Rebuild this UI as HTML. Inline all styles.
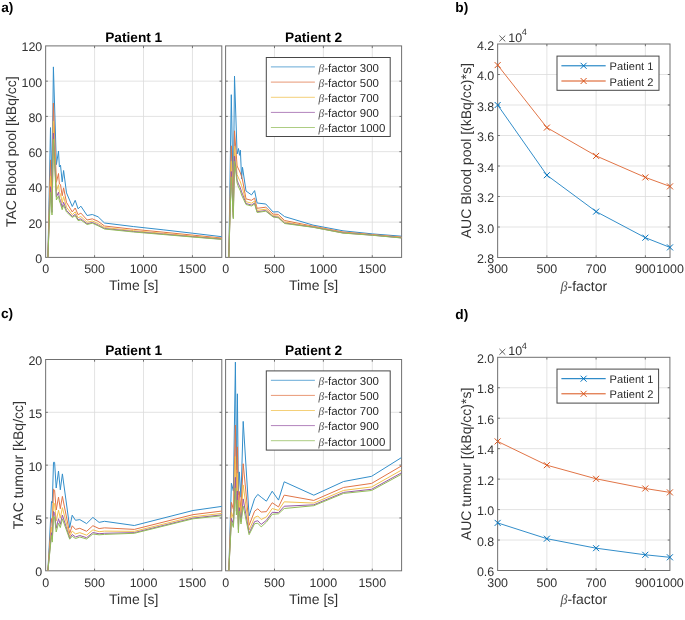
<!DOCTYPE html><html><head><meta charset="utf-8"><style>html,body{margin:0;padding:0;background:#fff;overflow:hidden}svg{display:block;will-change:transform}</style></head><body><svg width="685" height="620" viewBox="0 0 685 620" text-rendering="geometricPrecision" font-family='"Liberation Sans", sans-serif'>
<rect width="685" height="620" fill="#fff"/>
<defs>
<clipPath id="cpa1"><rect x="45.65" y="45.9" width="176.15" height="211.5"/></clipPath>
<clipPath id="cpa2"><rect x="225.6" y="45.9" width="176" height="211.5"/></clipPath>
<clipPath id="cpb"><rect x="497.65" y="44" width="172.35" height="213.5"/></clipPath>
<clipPath id="cpc1"><rect x="45.65" y="359.5" width="176.15" height="211.3"/></clipPath>
<clipPath id="cpc2"><rect x="225.6" y="359.5" width="176" height="211.3"/></clipPath>
<clipPath id="cpd"><rect x="497.65" y="357.3" width="172.25" height="213.2"/></clipPath>
</defs>
<line x1="94.58" y1="45.9" x2="94.58" y2="257.4" stroke="#dcdcdc" stroke-width="0.8"/>
<line x1="143.51" y1="45.9" x2="143.51" y2="257.4" stroke="#dcdcdc" stroke-width="0.8"/>
<line x1="192.44" y1="45.9" x2="192.44" y2="257.4" stroke="#dcdcdc" stroke-width="0.8"/>
<line x1="45.65" y1="222.15" x2="221.8" y2="222.15" stroke="#dcdcdc" stroke-width="0.8"/>
<line x1="45.65" y1="186.9" x2="221.8" y2="186.9" stroke="#dcdcdc" stroke-width="0.8"/>
<line x1="45.65" y1="151.65" x2="221.8" y2="151.65" stroke="#dcdcdc" stroke-width="0.8"/>
<line x1="45.65" y1="116.4" x2="221.8" y2="116.4" stroke="#dcdcdc" stroke-width="0.8"/>
<line x1="45.65" y1="81.15" x2="221.8" y2="81.15" stroke="#dcdcdc" stroke-width="0.8"/>
<line x1="274.49" y1="45.9" x2="274.49" y2="257.4" stroke="#dcdcdc" stroke-width="0.8"/>
<line x1="323.38" y1="45.9" x2="323.38" y2="257.4" stroke="#dcdcdc" stroke-width="0.8"/>
<line x1="372.27" y1="45.9" x2="372.27" y2="257.4" stroke="#dcdcdc" stroke-width="0.8"/>
<line x1="225.6" y1="222.15" x2="401.6" y2="222.15" stroke="#dcdcdc" stroke-width="0.8"/>
<line x1="225.6" y1="186.9" x2="401.6" y2="186.9" stroke="#dcdcdc" stroke-width="0.8"/>
<line x1="225.6" y1="151.65" x2="401.6" y2="151.65" stroke="#dcdcdc" stroke-width="0.8"/>
<line x1="225.6" y1="116.4" x2="401.6" y2="116.4" stroke="#dcdcdc" stroke-width="0.8"/>
<line x1="225.6" y1="81.15" x2="401.6" y2="81.15" stroke="#dcdcdc" stroke-width="0.8"/>
<line x1="94.58" y1="359.5" x2="94.58" y2="570.8" stroke="#dcdcdc" stroke-width="0.8"/>
<line x1="143.51" y1="359.5" x2="143.51" y2="570.8" stroke="#dcdcdc" stroke-width="0.8"/>
<line x1="192.44" y1="359.5" x2="192.44" y2="570.8" stroke="#dcdcdc" stroke-width="0.8"/>
<line x1="45.65" y1="517.97" x2="221.8" y2="517.97" stroke="#dcdcdc" stroke-width="0.8"/>
<line x1="45.65" y1="465.15" x2="221.8" y2="465.15" stroke="#dcdcdc" stroke-width="0.8"/>
<line x1="45.65" y1="412.32" x2="221.8" y2="412.32" stroke="#dcdcdc" stroke-width="0.8"/>
<line x1="274.49" y1="359.5" x2="274.49" y2="570.8" stroke="#dcdcdc" stroke-width="0.8"/>
<line x1="323.38" y1="359.5" x2="323.38" y2="570.8" stroke="#dcdcdc" stroke-width="0.8"/>
<line x1="372.27" y1="359.5" x2="372.27" y2="570.8" stroke="#dcdcdc" stroke-width="0.8"/>
<line x1="225.6" y1="517.97" x2="401.6" y2="517.97" stroke="#dcdcdc" stroke-width="0.8"/>
<line x1="225.6" y1="465.15" x2="401.6" y2="465.15" stroke="#dcdcdc" stroke-width="0.8"/>
<line x1="225.6" y1="412.32" x2="401.6" y2="412.32" stroke="#dcdcdc" stroke-width="0.8"/>
<line x1="546.89" y1="44" x2="546.89" y2="257.5" stroke="#dcdcdc" stroke-width="0.8"/>
<line x1="596.14" y1="44" x2="596.14" y2="257.5" stroke="#dcdcdc" stroke-width="0.8"/>
<line x1="645.38" y1="44" x2="645.38" y2="257.5" stroke="#dcdcdc" stroke-width="0.8"/>
<line x1="497.65" y1="227" x2="670" y2="227" stroke="#dcdcdc" stroke-width="0.8"/>
<line x1="497.65" y1="196.5" x2="670" y2="196.5" stroke="#dcdcdc" stroke-width="0.8"/>
<line x1="497.65" y1="166" x2="670" y2="166" stroke="#dcdcdc" stroke-width="0.8"/>
<line x1="497.65" y1="135.5" x2="670" y2="135.5" stroke="#dcdcdc" stroke-width="0.8"/>
<line x1="497.65" y1="105" x2="670" y2="105" stroke="#dcdcdc" stroke-width="0.8"/>
<line x1="497.65" y1="74.5" x2="670" y2="74.5" stroke="#dcdcdc" stroke-width="0.8"/>
<line x1="546.86" y1="357.3" x2="546.86" y2="570.5" stroke="#dcdcdc" stroke-width="0.8"/>
<line x1="596.08" y1="357.3" x2="596.08" y2="570.5" stroke="#dcdcdc" stroke-width="0.8"/>
<line x1="645.29" y1="357.3" x2="645.29" y2="570.5" stroke="#dcdcdc" stroke-width="0.8"/>
<line x1="497.65" y1="540.04" x2="669.9" y2="540.04" stroke="#dcdcdc" stroke-width="0.8"/>
<line x1="497.65" y1="509.59" x2="669.9" y2="509.59" stroke="#dcdcdc" stroke-width="0.8"/>
<line x1="497.65" y1="479.13" x2="669.9" y2="479.13" stroke="#dcdcdc" stroke-width="0.8"/>
<line x1="497.65" y1="448.67" x2="669.9" y2="448.67" stroke="#dcdcdc" stroke-width="0.8"/>
<line x1="497.65" y1="418.21" x2="669.9" y2="418.21" stroke="#dcdcdc" stroke-width="0.8"/>
<line x1="497.65" y1="387.76" x2="669.9" y2="387.76" stroke="#dcdcdc" stroke-width="0.8"/>
<path d="M94.58 257.4v-2.2M94.58 45.9v2.2M143.51 257.4v-2.2M143.51 45.9v2.2M192.44 257.4v-2.2M192.44 45.9v2.2M45.65 222.15h2.2M221.8 222.15h-2.2M45.65 186.9h2.2M221.8 186.9h-2.2M45.65 151.65h2.2M221.8 151.65h-2.2M45.65 116.4h2.2M221.8 116.4h-2.2M45.65 81.15h2.2M221.8 81.15h-2.2" stroke="#707070" stroke-width="1.0" fill="none"/>
<rect x="45.65" y="45.9" width="176.15" height="211.5" stroke="#707070" stroke-width="1.0" fill="none"/>
<path d="M274.49 257.4v-2.2M274.49 45.9v2.2M323.38 257.4v-2.2M323.38 45.9v2.2M372.27 257.4v-2.2M372.27 45.9v2.2M225.6 222.15h2.2M401.6 222.15h-2.2M225.6 186.9h2.2M401.6 186.9h-2.2M225.6 151.65h2.2M401.6 151.65h-2.2M225.6 116.4h2.2M401.6 116.4h-2.2M225.6 81.15h2.2M401.6 81.15h-2.2" stroke="#707070" stroke-width="1.0" fill="none"/>
<rect x="225.6" y="45.9" width="176" height="211.5" stroke="#707070" stroke-width="1.0" fill="none"/>
<path d="M94.58 570.8v-2.2M94.58 359.5v2.2M143.51 570.8v-2.2M143.51 359.5v2.2M192.44 570.8v-2.2M192.44 359.5v2.2M45.65 517.97h2.2M221.8 517.97h-2.2M45.65 465.15h2.2M221.8 465.15h-2.2M45.65 412.32h2.2M221.8 412.32h-2.2" stroke="#707070" stroke-width="1.0" fill="none"/>
<rect x="45.65" y="359.5" width="176.15" height="211.3" stroke="#707070" stroke-width="1.0" fill="none"/>
<path d="M274.49 570.8v-2.2M274.49 359.5v2.2M323.38 570.8v-2.2M323.38 359.5v2.2M372.27 570.8v-2.2M372.27 359.5v2.2M225.6 517.97h2.2M401.6 517.97h-2.2M225.6 465.15h2.2M401.6 465.15h-2.2M225.6 412.32h2.2M401.6 412.32h-2.2" stroke="#707070" stroke-width="1.0" fill="none"/>
<rect x="225.6" y="359.5" width="176" height="211.3" stroke="#707070" stroke-width="1.0" fill="none"/>
<path d="M546.89 257.5v-2.2M546.89 44v2.2M596.14 257.5v-2.2M596.14 44v2.2M645.38 257.5v-2.2M645.38 44v2.2M497.65 227h2.2M670 227h-2.2M497.65 196.5h2.2M670 196.5h-2.2M497.65 166h2.2M670 166h-2.2M497.65 135.5h2.2M670 135.5h-2.2M497.65 105h2.2M670 105h-2.2M497.65 74.5h2.2M670 74.5h-2.2" stroke="#707070" stroke-width="1.0" fill="none"/>
<rect x="497.65" y="44" width="172.35" height="213.5" stroke="#707070" stroke-width="1.0" fill="none"/>
<path d="M546.86 570.5v-2.2M546.86 357.3v2.2M596.08 570.5v-2.2M596.08 357.3v2.2M645.29 570.5v-2.2M645.29 357.3v2.2M497.65 540.04h2.2M669.9 540.04h-2.2M497.65 509.59h2.2M669.9 509.59h-2.2M497.65 479.13h2.2M669.9 479.13h-2.2M497.65 448.67h2.2M669.9 448.67h-2.2M497.65 418.21h2.2M669.9 418.21h-2.2M497.65 387.76h2.2M669.9 387.76h-2.2" stroke="#707070" stroke-width="1.0" fill="none"/>
<rect x="497.65" y="357.3" width="172.25" height="213.2" stroke="#707070" stroke-width="1.0" fill="none"/>
<polyline points="47.9,257.4 50.5,127.6 52,185 53.4,66.9 56.4,164.6 58.5,151 59.4,167 60.5,165.2 62.2,181.9 63.6,170.5 66.5,192.9 72.3,206.5 75.2,200.3 78.1,208.8 80.9,206.2 87.1,215.5 92.3,214.5 98.1,216.8 104.5,223 133.7,226.6 163.1,229.8 192.4,233.2 221.8,236.7" stroke="#338eca" stroke-width="1.0" fill="none" stroke-linejoin="round" clip-path="url(#cpa1)"/>
<polyline points="47.9,257.4 50.5,159.9 52,200 53.4,103.1 56.4,182.3 58.5,173.5 59.4,184 60.5,184.55 62.2,195.8 63.6,187.85 66.5,202.45 72.3,211.95 75.2,208 78.1,214.7 80.9,213.1 87.1,220 92.3,218.85 98.1,221.3 104.5,226 133.7,229.3 163.1,232.15 192.4,235.1 221.8,238.05" stroke="#e17547" stroke-width="1.0" fill="none" stroke-linejoin="round" clip-path="url(#cpa1)"/>
<polyline points="47.9,257.4 50.5,176.05 52,207.5 53.4,121.2 56.4,191.15 58.5,184.75 59.4,192.5 60.5,194.23 62.2,202.75 63.6,196.52 66.5,207.22 72.3,214.68 75.2,211.85 78.1,217.65 80.9,216.55 87.1,222.25 92.3,221.02 98.1,223.55 104.5,227.5 133.7,230.65 163.1,233.32 192.4,236.05 221.8,238.73" stroke="#f1c14d" stroke-width="1.0" fill="none" stroke-linejoin="round" clip-path="url(#cpa1)"/>
<polyline points="47.9,257.4 50.5,186.71 52,212.45 53.4,133.15 56.4,196.99 58.5,192.18 59.4,198.11 60.5,200.61 62.2,207.34 63.6,202.25 66.5,210.38 72.3,216.47 75.2,214.39 78.1,219.6 80.9,218.83 87.1,223.74 92.3,222.46 98.1,225.04 104.5,228.49 133.7,231.54 163.1,234.1 192.4,236.68 221.8,239.17" stroke="#9859a5" stroke-width="1.0" fill="none" stroke-linejoin="round" clip-path="url(#cpa1)"/>
<polyline points="47.9,257.4 50.5,192.2 52,215 53.4,139.3 56.4,200 58.5,196 59.4,201 60.5,203.9 62.2,209.7 63.6,205.2 66.5,212 72.3,217.4 75.2,215.7 78.1,220.6 80.9,220 87.1,224.5 92.3,223.2 98.1,225.8 104.5,229 133.7,232 163.1,234.5 192.4,237 221.8,239.4" stroke="#92bd59" stroke-width="1.0" fill="none" stroke-linejoin="round" clip-path="url(#cpa1)"/>
<polyline points="228.8,257.4 231.3,94.7 233.3,200 234.5,76.1 237.1,154 238.5,148.5 239.5,155.3 240.4,150.2 241.6,178.9 242.5,167.3 246,191 251.5,194.9 254.6,190.6 257.1,203 265.8,204 273.1,212 278.2,211.7 284.6,216.6 313,225.1 343,230.8 372.6,233.9 401.6,236.2" stroke="#338eca" stroke-width="1.0" fill="none" stroke-linejoin="round" clip-path="url(#cpa2)"/>
<polyline points="228.8,257.4 231.3,145.8 233.3,212 234.5,130.8 237.1,166 238.5,169 239.5,171 240.4,173 241.6,176.5 242.5,180 246,198.9 251.5,200.3 254.6,198.1 257.1,208.3 265.8,207.2 273.1,214.1 278.2,214.4 284.6,220.5 313,226.2 343,232 372.6,234.6 401.6,237.1" stroke="#e17547" stroke-width="1.0" fill="none" stroke-linejoin="round" clip-path="url(#cpa2)"/>
<polyline points="228.8,257.4 231.3,161.3 233.3,215.4 234.5,146.05 237.1,174.5 238.5,178 239.5,180 240.4,182 241.6,185.75 242.5,188.5 246,201.7 251.5,203.15 254.6,201.05 257.1,210.4 265.8,209.2 273.1,215.55 278.2,216.1 284.6,222 313,226.75 343,232.55 372.6,234.95 401.6,237.55" stroke="#f1c14d" stroke-width="1.0" fill="none" stroke-linejoin="round" clip-path="url(#cpa2)"/>
<polyline points="228.8,257.4 231.3,171.53 233.3,217.64 234.5,156.12 237.1,180.11 238.5,183.94 239.5,185.94 240.4,187.94 241.6,191.85 242.5,194.11 246,203.55 251.5,205.03 254.6,203 257.1,211.79 265.8,210.52 273.1,216.51 278.2,217.22 284.6,222.99 313,227.11 343,232.91 372.6,235.18 401.6,237.85" stroke="#9859a5" stroke-width="1.0" fill="none" stroke-linejoin="round" clip-path="url(#cpa2)"/>
<polyline points="228.8,257.4 231.3,176.8 233.3,218.8 234.5,161.3 237.1,183 238.5,187 239.5,189 240.4,191 241.6,195 242.5,197 246,204.5 251.5,206 254.6,204 257.1,212.5 265.8,211.2 273.1,217 278.2,217.8 284.6,223.5 313,227.3 343,233.1 372.6,235.3 401.6,238" stroke="#92bd59" stroke-width="1.0" fill="none" stroke-linejoin="round" clip-path="url(#cpa2)"/>
<polyline points="47.9,570.8 51.5,501.5 52.3,502.9 53.5,462.3 54.6,462.3 56.2,488 58.5,471 60.3,489.8 62.4,473.9 69.7,527.6 72.2,515.2 75.5,520.3 79.8,519.6 86.6,523.6 92.9,517.4 99.1,522.4 104.5,521.3 134.3,525.5 193,510.5 221.8,506.4" stroke="#338eca" stroke-width="1.0" fill="none" stroke-linejoin="round" clip-path="url(#cpc1)"/>
<polyline points="47.9,570.8 51.5,518.55 52.3,522.5 53.5,489.15 54.6,490.15 56.2,510 58.5,497.1 60.3,508.7 62.4,496.4 69.7,533.4 72.2,525.75 75.5,529.4 79.8,528.3 86.6,531.3 92.9,525.7 99.1,528.6 104.5,527.85 134.3,529.4 193,514.65 221.8,511.05" stroke="#e17547" stroke-width="1.0" fill="none" stroke-linejoin="round" clip-path="url(#cpc1)"/>
<polyline points="47.9,570.8 51.5,527.08 52.3,532.3 53.5,502.57 54.6,504.07 56.2,521 58.5,510.15 60.3,518.15 62.4,507.65 69.7,536.3 72.2,531.02 75.5,533.95 79.8,532.65 86.6,535.15 92.9,529.85 99.1,531.7 104.5,531.12 134.3,531.35 193,516.72 221.8,513.38" stroke="#f1c14d" stroke-width="1.0" fill="none" stroke-linejoin="round" clip-path="url(#cpc1)"/>
<polyline points="47.9,570.8 51.5,532.7 52.3,538.77 53.5,511.44 54.6,513.27 56.2,528.26 58.5,518.76 60.3,524.39 62.4,515.07 69.7,538.21 72.2,534.51 75.5,536.95 79.8,535.52 86.6,537.69 92.9,532.59 99.1,533.75 104.5,533.29 134.3,532.64 193,518.09 221.8,514.91" stroke="#9859a5" stroke-width="1.0" fill="none" stroke-linejoin="round" clip-path="url(#cpc1)"/>
<polyline points="47.9,570.8 51.5,535.6 52.3,542.1 53.5,516 54.6,518 56.2,532 58.5,523.2 60.3,527.6 62.4,518.9 69.7,539.2 72.2,536.3 75.5,538.5 79.8,537 86.6,539 92.9,534 99.1,534.8 104.5,534.4 134.3,533.3 193,518.8 221.8,515.7" stroke="#92bd59" stroke-width="1.0" fill="none" stroke-linejoin="round" clip-path="url(#cpc1)"/>
<polyline points="228.8,570.8 231.4,483.2 233.4,491.1 235.4,362.1 236.4,470 237.4,393.8 238.4,495 239.3,471.9 241,497.3 243.2,421.4 249.1,515.9 254.6,498.6 257.8,494.4 261.2,497.2 266.4,501.2 272.2,491.2 278.5,500.1 284.2,481.8 313.8,495.2 343.6,481.5 371.6,476.3 401.6,457.5" stroke="#338eca" stroke-width="1.0" fill="none" stroke-linejoin="round" clip-path="url(#cpc2)"/>
<polyline points="228.8,570.8 231.4,502.4 233.4,509.25 235.4,425.05 236.4,492.5 237.4,446.9 238.4,513.9 239.3,491.45 241,510.65 243.2,463.75 249.1,525.3 254.6,511.15 257.8,508.8 261.2,512.05 266.4,511.65 272.2,502.75 278.5,506.95 284.2,495.15 313.8,500.45 343.6,487.45 371.6,483.4 401.6,465.85" stroke="#e17547" stroke-width="1.0" fill="none" stroke-linejoin="round" clip-path="url(#cpc2)"/>
<polyline points="228.8,570.8 231.4,512 233.4,518.33 235.4,456.52 236.4,503.75 237.4,473.45 238.4,523.35 239.3,501.23 241,517.33 243.2,484.93 249.1,530 254.6,517.43 257.8,516 261.2,519.47 266.4,516.88 272.2,508.52 278.5,510.38 284.2,501.82 313.8,503.07 343.6,490.42 371.6,486.95 401.6,470.02" stroke="#f1c14d" stroke-width="1.0" fill="none" stroke-linejoin="round" clip-path="url(#cpc2)"/>
<polyline points="228.8,570.8 231.4,518.34 233.4,524.31 235.4,477.3 236.4,511.18 237.4,490.97 238.4,529.59 239.3,507.68 241,521.73 243.2,498.9 249.1,533.1 254.6,521.57 257.8,520.75 261.2,524.38 266.4,520.32 272.2,512.34 278.5,512.64 284.2,506.23 313.8,504.81 343.6,492.39 371.6,489.29 401.6,472.78" stroke="#9859a5" stroke-width="1.0" fill="none" stroke-linejoin="round" clip-path="url(#cpc2)"/>
<polyline points="228.8,570.8 231.4,521.6 233.4,527.4 235.4,488 236.4,515 237.4,500 238.4,532.8 239.3,511 241,524 243.2,506.1 249.1,534.7 254.6,523.7 257.8,523.2 261.2,526.9 266.4,522.1 272.2,514.3 278.5,513.8 284.2,508.5 313.8,505.7 343.6,493.4 371.6,490.5 401.6,474.2" stroke="#92bd59" stroke-width="1.0" fill="none" stroke-linejoin="round" clip-path="url(#cpc2)"/>
<polyline points="497.65,105 546.89,175.2 596.14,211.6 645.38,237.7 670,247.4" stroke="#338eca" stroke-width="1.0" fill="none" stroke-linejoin="round"/>
<path d="M494.65 102L500.65 108M494.65 108L500.65 102" stroke="#0072bd" stroke-width="1.0" fill="none"/>
<path d="M543.89 172.2L549.89 178.2M543.89 178.2L549.89 172.2" stroke="#0072bd" stroke-width="1.0" fill="none"/>
<path d="M593.14 208.6L599.14 214.6M593.14 214.6L599.14 208.6" stroke="#0072bd" stroke-width="1.0" fill="none"/>
<path d="M642.38 234.7L648.38 240.7M642.38 240.7L648.38 234.7" stroke="#0072bd" stroke-width="1.0" fill="none"/>
<path d="M667 244.4L673 250.4M667 250.4L673 244.4" stroke="#0072bd" stroke-width="1.0" fill="none"/>
<polyline points="497.65,65.1 546.89,127.6 596.14,155.9 645.38,177.4 670,186.4" stroke="#e17547" stroke-width="1.0" fill="none" stroke-linejoin="round"/>
<path d="M494.65 62.1L500.65 68.1M494.65 68.1L500.65 62.1" stroke="#d95319" stroke-width="1.0" fill="none"/>
<path d="M543.89 124.6L549.89 130.6M543.89 130.6L549.89 124.6" stroke="#d95319" stroke-width="1.0" fill="none"/>
<path d="M593.14 152.9L599.14 158.9M593.14 158.9L599.14 152.9" stroke="#d95319" stroke-width="1.0" fill="none"/>
<path d="M642.38 174.4L648.38 180.4M642.38 180.4L648.38 174.4" stroke="#d95319" stroke-width="1.0" fill="none"/>
<path d="M667 183.4L673 189.4M667 189.4L673 183.4" stroke="#d95319" stroke-width="1.0" fill="none"/>
<polyline points="497.65,522.9 546.86,538.7 596.08,548.2 645.29,554.8 669.9,557.3" stroke="#338eca" stroke-width="1.0" fill="none" stroke-linejoin="round"/>
<path d="M494.65 519.9L500.65 525.9M494.65 525.9L500.65 519.9" stroke="#0072bd" stroke-width="1.0" fill="none"/>
<path d="M543.86 535.7L549.86 541.7M543.86 541.7L549.86 535.7" stroke="#0072bd" stroke-width="1.0" fill="none"/>
<path d="M593.08 545.2L599.08 551.2M593.08 551.2L599.08 545.2" stroke="#0072bd" stroke-width="1.0" fill="none"/>
<path d="M642.29 551.8L648.29 557.8M642.29 557.8L648.29 551.8" stroke="#0072bd" stroke-width="1.0" fill="none"/>
<path d="M666.9 554.3L672.9 560.3M666.9 560.3L672.9 554.3" stroke="#0072bd" stroke-width="1.0" fill="none"/>
<polyline points="497.65,441.4 546.86,465.2 596.08,478.8 645.29,488.5 669.9,492.4" stroke="#e17547" stroke-width="1.0" fill="none" stroke-linejoin="round"/>
<path d="M494.65 438.4L500.65 444.4M494.65 444.4L500.65 438.4" stroke="#d95319" stroke-width="1.0" fill="none"/>
<path d="M543.86 462.2L549.86 468.2M543.86 468.2L549.86 462.2" stroke="#d95319" stroke-width="1.0" fill="none"/>
<path d="M593.08 475.8L599.08 481.8M593.08 481.8L599.08 475.8" stroke="#d95319" stroke-width="1.0" fill="none"/>
<path d="M642.29 485.5L648.29 491.5M642.29 491.5L648.29 485.5" stroke="#d95319" stroke-width="1.0" fill="none"/>
<path d="M666.9 489.4L672.9 495.4M666.9 495.4L672.9 489.4" stroke="#d95319" stroke-width="1.0" fill="none"/>
<text x="45.65" y="273" font-size="12.45" text-anchor="middle" font-weight="normal" fill="#333333" >0</text>
<text x="94.58" y="273" font-size="12.45" text-anchor="middle" font-weight="normal" fill="#333333" >500</text>
<text x="143.51" y="273" font-size="12.45" text-anchor="middle" font-weight="normal" fill="#333333" >1000</text>
<text x="192.44" y="273" font-size="12.45" text-anchor="middle" font-weight="normal" fill="#333333" >1500</text>
<text x="225.6" y="273" font-size="12.45" text-anchor="middle" font-weight="normal" fill="#333333" >0</text>
<text x="274.49" y="273" font-size="12.45" text-anchor="middle" font-weight="normal" fill="#333333" >500</text>
<text x="323.38" y="273" font-size="12.45" text-anchor="middle" font-weight="normal" fill="#333333" >1000</text>
<text x="372.27" y="273" font-size="12.45" text-anchor="middle" font-weight="normal" fill="#333333" >1500</text>
<text x="45.65" y="586.8" font-size="12.45" text-anchor="middle" font-weight="normal" fill="#333333" >0</text>
<text x="94.58" y="586.8" font-size="12.45" text-anchor="middle" font-weight="normal" fill="#333333" >500</text>
<text x="143.51" y="586.8" font-size="12.45" text-anchor="middle" font-weight="normal" fill="#333333" >1000</text>
<text x="192.44" y="586.8" font-size="12.45" text-anchor="middle" font-weight="normal" fill="#333333" >1500</text>
<text x="225.6" y="586.8" font-size="12.45" text-anchor="middle" font-weight="normal" fill="#333333" >0</text>
<text x="274.49" y="586.8" font-size="12.45" text-anchor="middle" font-weight="normal" fill="#333333" >500</text>
<text x="323.38" y="586.8" font-size="12.45" text-anchor="middle" font-weight="normal" fill="#333333" >1000</text>
<text x="372.27" y="586.8" font-size="12.45" text-anchor="middle" font-weight="normal" fill="#333333" >1500</text>
<text x="42.25" y="262.96" font-size="12.45" text-anchor="end" font-weight="normal" fill="#333333" >0</text>
<text x="42.25" y="227.71" font-size="12.45" text-anchor="end" font-weight="normal" fill="#333333" >20</text>
<text x="42.25" y="192.46" font-size="12.45" text-anchor="end" font-weight="normal" fill="#333333" >40</text>
<text x="42.25" y="157.21" font-size="12.45" text-anchor="end" font-weight="normal" fill="#333333" >60</text>
<text x="42.25" y="121.96" font-size="12.45" text-anchor="end" font-weight="normal" fill="#333333" >80</text>
<text x="42.25" y="86.71" font-size="12.45" text-anchor="end" font-weight="normal" fill="#333333" >100</text>
<text x="42.25" y="51.46" font-size="12.45" text-anchor="end" font-weight="normal" fill="#333333" >120</text>
<text x="42.25" y="576.36" font-size="12.45" text-anchor="end" font-weight="normal" fill="#333333" >0</text>
<text x="42.25" y="523.53" font-size="12.45" text-anchor="end" font-weight="normal" fill="#333333" >5</text>
<text x="42.25" y="470.71" font-size="12.45" text-anchor="end" font-weight="normal" fill="#333333" >10</text>
<text x="42.25" y="417.88" font-size="12.45" text-anchor="end" font-weight="normal" fill="#333333" >15</text>
<text x="42.25" y="365.06" font-size="12.45" text-anchor="end" font-weight="normal" fill="#333333" >20</text>
<text x="497.65" y="273.1" font-size="12.45" text-anchor="middle" font-weight="normal" fill="#333333" >300</text>
<text x="546.89" y="273.1" font-size="12.45" text-anchor="middle" font-weight="normal" fill="#333333" >500</text>
<text x="596.14" y="273.1" font-size="12.45" text-anchor="middle" font-weight="normal" fill="#333333" >700</text>
<text x="645.38" y="273.1" font-size="12.45" text-anchor="middle" font-weight="normal" fill="#333333" >900</text>
<text x="670" y="273.1" font-size="12.45" text-anchor="middle" font-weight="normal" fill="#333333" >1000</text>
<text x="494.25" y="263.16" font-size="12.45" text-anchor="end" font-weight="normal" fill="#333333" >2.8</text>
<text x="494.25" y="232.66" font-size="12.45" text-anchor="end" font-weight="normal" fill="#333333" >3.0</text>
<text x="494.25" y="202.16" font-size="12.45" text-anchor="end" font-weight="normal" fill="#333333" >3.2</text>
<text x="494.25" y="171.66" font-size="12.45" text-anchor="end" font-weight="normal" fill="#333333" >3.4</text>
<text x="494.25" y="141.16" font-size="12.45" text-anchor="end" font-weight="normal" fill="#333333" >3.6</text>
<text x="494.25" y="110.66" font-size="12.45" text-anchor="end" font-weight="normal" fill="#333333" >3.8</text>
<text x="494.25" y="80.16" font-size="12.45" text-anchor="end" font-weight="normal" fill="#333333" >4.0</text>
<text x="494.25" y="49.66" font-size="12.45" text-anchor="end" font-weight="normal" fill="#333333" >4.2</text>
<path d="M499.45 35.6L505.25 41.4M499.45 41.4L505.25 35.6" stroke="#444" stroke-width="0.85" fill="none"/>
<text x="508.25" y="41.8" font-size="12.45" text-anchor="start" font-weight="normal" fill="#333333" >10</text>
<text x="521.65" y="35.4" font-size="9.2" text-anchor="start" font-weight="normal" fill="#333333" >4</text>
<text x="497.65" y="586.5" font-size="12.45" text-anchor="middle" font-weight="normal" fill="#333333" >300</text>
<text x="546.86" y="586.5" font-size="12.45" text-anchor="middle" font-weight="normal" fill="#333333" >500</text>
<text x="596.08" y="586.5" font-size="12.45" text-anchor="middle" font-weight="normal" fill="#333333" >700</text>
<text x="645.29" y="586.5" font-size="12.45" text-anchor="middle" font-weight="normal" fill="#333333" >900</text>
<text x="669.9" y="586.5" font-size="12.45" text-anchor="middle" font-weight="normal" fill="#333333" >1000</text>
<text x="494.25" y="576.16" font-size="12.45" text-anchor="end" font-weight="normal" fill="#333333" >0.6</text>
<text x="494.25" y="545.7" font-size="12.45" text-anchor="end" font-weight="normal" fill="#333333" >0.8</text>
<text x="494.25" y="515.24" font-size="12.45" text-anchor="end" font-weight="normal" fill="#333333" >1.0</text>
<text x="494.25" y="484.79" font-size="12.45" text-anchor="end" font-weight="normal" fill="#333333" >1.2</text>
<text x="494.25" y="454.33" font-size="12.45" text-anchor="end" font-weight="normal" fill="#333333" >1.4</text>
<text x="494.25" y="423.87" font-size="12.45" text-anchor="end" font-weight="normal" fill="#333333" >1.6</text>
<text x="494.25" y="393.41" font-size="12.45" text-anchor="end" font-weight="normal" fill="#333333" >1.8</text>
<text x="494.25" y="362.96" font-size="12.45" text-anchor="end" font-weight="normal" fill="#333333" >2.0</text>
<path d="M499.45 348.9L505.25 354.7M499.45 354.7L505.25 348.9" stroke="#444" stroke-width="0.85" fill="none"/>
<text x="508.25" y="355.1" font-size="12.45" text-anchor="start" font-weight="normal" fill="#333333" >10</text>
<text x="521.65" y="348.7" font-size="9.2" text-anchor="start" font-weight="normal" fill="#333333" >4</text>
<text x="133.72" y="41.6" font-size="13.7" text-anchor="middle" font-weight="bold" fill="#000" >Patient 1</text>
<text x="313.6" y="41.6" font-size="13.7" text-anchor="middle" font-weight="bold" fill="#000" >Patient 2</text>
<text x="133.72" y="355.2" font-size="13.7" text-anchor="middle" font-weight="bold" fill="#000" >Patient 1</text>
<text x="313.6" y="355.2" font-size="13.7" text-anchor="middle" font-weight="bold" fill="#000" >Patient 2</text>
<text x="133.72" y="290.4" font-size="14.0" text-anchor="middle" font-weight="normal" fill="#333333" >Time [s]</text>
<text x="313.6" y="290.4" font-size="14.0" text-anchor="middle" font-weight="normal" fill="#333333" >Time [s]</text>
<text x="133.72" y="603.8" font-size="14.0" text-anchor="middle" font-weight="normal" fill="#333333" >Time [s]</text>
<text x="313.6" y="603.8" font-size="14.0" text-anchor="middle" font-weight="normal" fill="#333333" >Time [s]</text>
<text x="583.83" y="290.5" font-size="14.0" text-anchor="middle" fill="#333333"><tspan font-family="Liberation Serif" font-style="italic" fill="#555">&#946;</tspan>-factor</text>
<text x="583.77" y="603.5" font-size="14.0" text-anchor="middle" fill="#333333"><tspan font-family="Liberation Serif" font-style="italic" fill="#555">&#946;</tspan>-factor</text>
<text transform="translate(15.5,151.65) rotate(-90)" font-size="14.0" text-anchor="middle" fill="#333333">TAC Blood pool [kBq/cc]</text>
<text transform="translate(22.5,465.15) rotate(-90)" font-size="14.0" text-anchor="middle" fill="#333333">TAC tumour [kBq/cc]</text>
<text transform="translate(471.4,150.75) rotate(-90)" font-size="14.0" text-anchor="middle" fill="#333333">AUC Blood pool [(kBq/cc)*s]</text>
<text transform="translate(471.4,463.9) rotate(-90)" font-size="14.0" text-anchor="middle" fill="#333333">AUC tumour [(kBq/cc)*s]</text>
<text x="1.2" y="11.7" font-size="13.7" text-anchor="start" font-weight="bold" fill="#000" >a)</text>
<text x="455.3" y="11.8" font-size="13.7" text-anchor="start" font-weight="bold" fill="#000" >b)</text>
<text x="1" y="318.2" font-size="13.7" text-anchor="start" font-weight="bold" fill="#000" >c)</text>
<text x="455.3" y="318.8" font-size="13.7" text-anchor="start" font-weight="bold" fill="#000" >d)</text>
<rect x="266.3" y="57.5" width="123.9" height="79" fill="#fff" stroke="#484848" stroke-width="1.0"/>
<line x1="270.9" y1="66.9" x2="314.9" y2="66.9" stroke="#0072bd" stroke-width="1.0" stroke-opacity="0.6"/>
<text x="318.5" y="71.7" font-size="11.45" fill="#2a2a2a"><tspan font-family="Liberation Serif" font-style="italic" fill="#555">&#946;</tspan>-factor 300</text>
<line x1="270.9" y1="82.1" x2="314.9" y2="82.1" stroke="#d95319" stroke-width="1.0" stroke-opacity="0.6"/>
<text x="318.5" y="86.9" font-size="11.45" fill="#2a2a2a"><tspan font-family="Liberation Serif" font-style="italic" fill="#555">&#946;</tspan>-factor 500</text>
<line x1="270.9" y1="97.3" x2="314.9" y2="97.3" stroke="#edb120" stroke-width="1.0" stroke-opacity="0.6"/>
<text x="318.5" y="102.1" font-size="11.45" fill="#2a2a2a"><tspan font-family="Liberation Serif" font-style="italic" fill="#555">&#946;</tspan>-factor 700</text>
<line x1="270.9" y1="112.4" x2="314.9" y2="112.4" stroke="#7e2f8e" stroke-width="1.0" stroke-opacity="0.6"/>
<text x="318.5" y="117.2" font-size="11.45" fill="#2a2a2a"><tspan font-family="Liberation Serif" font-style="italic" fill="#555">&#946;</tspan>-factor 900</text>
<line x1="270.9" y1="127.5" x2="314.9" y2="127.5" stroke="#77ac30" stroke-width="1.0" stroke-opacity="0.6"/>
<text x="318.5" y="132.3" font-size="11.45" fill="#2a2a2a"><tspan font-family="Liberation Serif" font-style="italic" fill="#555">&#946;</tspan>-factor 1000</text>
<rect x="266.3" y="370.9" width="123.9" height="79.2" fill="#fff" stroke="#484848" stroke-width="1.0"/>
<line x1="270.9" y1="380.3" x2="314.9" y2="380.3" stroke="#0072bd" stroke-width="1.0" stroke-opacity="0.6"/>
<text x="318.5" y="385.1" font-size="11.45" fill="#2a2a2a"><tspan font-family="Liberation Serif" font-style="italic" fill="#555">&#946;</tspan>-factor 300</text>
<line x1="270.9" y1="395.4" x2="314.9" y2="395.4" stroke="#d95319" stroke-width="1.0" stroke-opacity="0.6"/>
<text x="318.5" y="400.2" font-size="11.45" fill="#2a2a2a"><tspan font-family="Liberation Serif" font-style="italic" fill="#555">&#946;</tspan>-factor 500</text>
<line x1="270.9" y1="410.5" x2="314.9" y2="410.5" stroke="#edb120" stroke-width="1.0" stroke-opacity="0.6"/>
<text x="318.5" y="415.3" font-size="11.45" fill="#2a2a2a"><tspan font-family="Liberation Serif" font-style="italic" fill="#555">&#946;</tspan>-factor 700</text>
<line x1="270.9" y1="425.6" x2="314.9" y2="425.6" stroke="#7e2f8e" stroke-width="1.0" stroke-opacity="0.6"/>
<text x="318.5" y="430.4" font-size="11.45" fill="#2a2a2a"><tspan font-family="Liberation Serif" font-style="italic" fill="#555">&#946;</tspan>-factor 900</text>
<line x1="270.9" y1="440.7" x2="314.9" y2="440.7" stroke="#77ac30" stroke-width="1.0" stroke-opacity="0.6"/>
<text x="318.5" y="445.5" font-size="11.45" fill="#2a2a2a"><tspan font-family="Liberation Serif" font-style="italic" fill="#555">&#946;</tspan>-factor 1000</text>
<rect x="557" y="56.1" width="102" height="34.2" fill="#fff" stroke="#484848" stroke-width="1.0"/>
<line x1="561.4" y1="65.8" x2="605.7" y2="65.8" stroke="#0072bd" stroke-width="1.0"/>
<path d="M580.6 62.8L586.6 68.8M580.6 68.8L586.6 62.8" stroke="#0072bd" stroke-width="1.0" fill="none"/>
<text x="609.6" y="70.4" font-size="11.1" fill="#2a2a2a">Patient 1</text>
<line x1="561.4" y1="81" x2="605.7" y2="81" stroke="#d95319" stroke-width="1.0"/>
<path d="M580.6 78L586.6 84M580.6 84L586.6 78" stroke="#d95319" stroke-width="1.0" fill="none"/>
<text x="609.6" y="85.6" font-size="11.1" fill="#2a2a2a">Patient 2</text>
<rect x="557" y="369.1" width="101.6" height="34" fill="#fff" stroke="#484848" stroke-width="1.0"/>
<line x1="561.4" y1="378.7" x2="605.7" y2="378.7" stroke="#0072bd" stroke-width="1.0"/>
<path d="M580.6 375.7L586.6 381.7M580.6 381.7L586.6 375.7" stroke="#0072bd" stroke-width="1.0" fill="none"/>
<text x="609.6" y="383.3" font-size="11.1" fill="#2a2a2a">Patient 1</text>
<line x1="561.4" y1="393.8" x2="605.7" y2="393.8" stroke="#d95319" stroke-width="1.0"/>
<path d="M580.6 390.8L586.6 396.8M580.6 396.8L586.6 390.8" stroke="#d95319" stroke-width="1.0" fill="none"/>
<text x="609.6" y="398.4" font-size="11.1" fill="#2a2a2a">Patient 2</text>
</svg></body></html>
